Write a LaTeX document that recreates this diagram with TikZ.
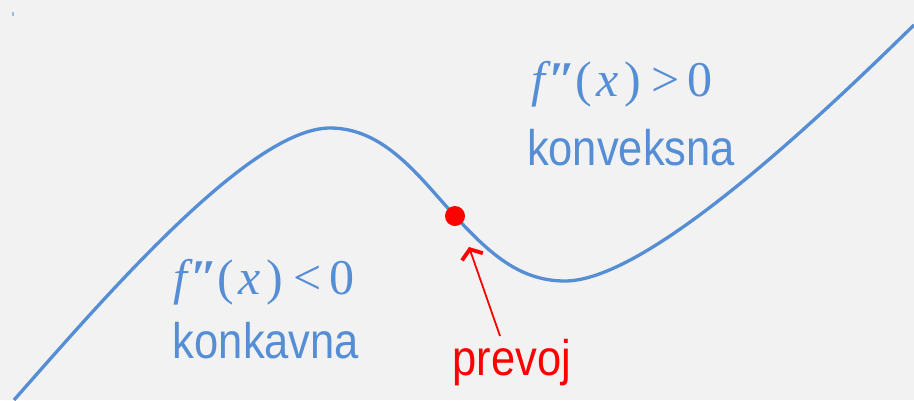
\documentclass[tikz,border=0pt]{standalone}
\usepackage{fontspec}
\setmainfont{Liberation Sans}
\newfontfamily\formfont{Liberation Serif}
\usetikzlibrary{arrows.meta}

\definecolor{krivulja}{RGB}{85,142,213}

\begin{document}
\begin{tikzpicture}[
    x=1pt, y=-1pt,
    label/.style={text=krivulja, font=\fontsize{50}{56}\selectfont, inner sep=0pt},
    formula/.style={text=krivulja, font=\formfont\fontsize{50}{56}\selectfont, inner sep=0pt},
    curve/.style={krivulja, line width=3.3pt},
    arrow/.style={red, line width=1.8pt, -{Straight Barb[length=8pt, width=22pt, line width=3.8pt]}}
  ]
    \fill[black!5] (0,0) rectangle (914,400);
    \useasboundingbox (0,0) rectangle (914,400);
    \fill[krivulja!60] (12,12) rectangle (13.5,16);

    % the curve
    \draw[curve] (14,400) .. controls (104,298) and (250,128) .. (330,128)
      .. controls (385,128) and (420,178) .. (455,216)
      .. controls (490,254) and (520,281) .. (565,281)
      .. controls (650,281) and (830,107) .. (914,25);

    \node[circle, fill=red, minimum size=20pt, inner sep=0pt] (dot) at (455,216) {};

    \node[formula, anchor=base] (konv-f) at (622,96) {\itshape f\kern3pt\textbf{″}\upshape(\kern4pt\itshape x\upshape\kern6pt)\kern10pt>\kern8pt0};
    \node[label, anchor=base] (konv) at (631,165) {\scalebox{0.87}[1]{konveksna}};
    \node[formula, anchor=base] (konk-f) at (264,294) {\itshape f\kern3pt\textbf{″}\upshape(\kern4pt\itshape x\upshape\kern6pt)\kern10pt<\kern8pt0};
    \node[label, anchor=base] (konk) at (266,358) {\scalebox{0.87}[1]{konkavna}};
    \node[label, text=red, anchor=base] (prevoj) at (512,375) {\scalebox{0.87}[1]{prevoj}};

    \coordinate (tip) at (469,247);
    \draw[arrow] (500,336) -- (tip);
  \end{tikzpicture}
\end{document}
